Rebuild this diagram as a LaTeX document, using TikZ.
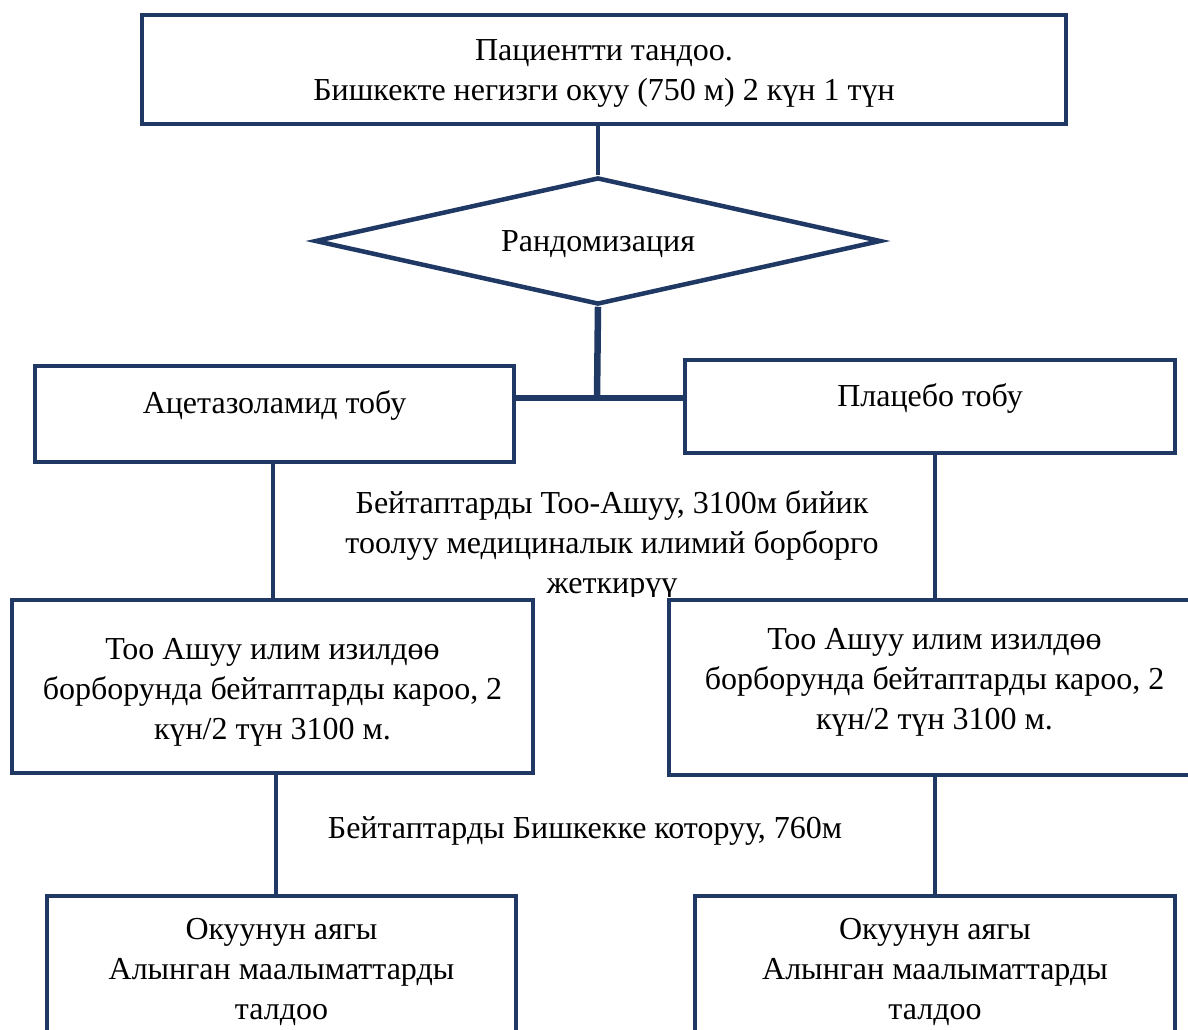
\documentclass[tikz,border=0pt]{standalone}
\usepackage{fontspec}
\setmainfont{Liberation Serif}
\usetikzlibrary{positioning}
\usetikzlibrary{shapes.geometric}
\definecolor{navy}{HTML}{1F3864}
\newcommand{\lifted}[3]{\raisebox{#1}[\height][\depth]{\parbox{#2}{\centering #3}}}

\begin{document}
\begin{tikzpicture}
    [x=1pt, y=-1pt,
    stepbox/.style={rectangle, draw=navy, fill=white, line width=4.5pt, align=center, inner sep=0pt, font=\fontsize{32}{40}\selectfont},
    decide/.style={diamond, draw=navy, fill=white, line width=4.5pt, aspect=4.5, inner sep=0pt, minimum width=566pt, minimum height=127pt, font=\fontsize{32}{40}\selectfont},
    note/.style={align=center, inner sep=0pt, font=\fontsize{32}{40}\selectfont},
    link/.style={draw=navy, line width=4.5pt},
    biglink/.style={draw=navy, line width=6.5pt}]
    \useasboundingbox (0,0) rectangle (1188,1030);
    \node[stepbox, minimum width=924pt, minimum height=109pt] (sel) at (604, 69.5)
        {\lifted{-4pt}{880pt}{Пациентти тандоо.\\Бишкекте негизги окуу (750 м) 2 күн 1 түн}};
    \node[decide] (rand) at (598, 241) {\raisebox{-3pt}[\height][\depth]{Рандомизация}};
    \node[stepbox, minimum width=479pt, minimum height=96pt] (acet) at (274.5, 414)
        {\raisebox{9pt}[\height][\depth]{Ацетазоламид тобу}};
    \node[stepbox, minimum width=490pt, minimum height=93pt] (plac) at (930, 406.5)
        {\raisebox{8pt}[\height][\depth]{Плацебо тобу}};
    % text under the group boxes, cut by the next row
    \begin{scope}
        \clip (0,450) rectangle (1188,596);
        \node[note] (trip) at (612, 545) {Бейтаптарды Тоо-Ашуу, 3100м бийик\\тоолуу медициналык илимий борборго\\жеткирүү};
    \end{scope}
    \node[stepbox, minimum width=521pt, minimum height=173pt] (tooL) at (272.5, 686.5)
        {\lifted{-6pt}{500pt}{Тоо Ашуу илим изилдөө\\борборунда бейтаптарды кароо, 2\\күн/2 түн 3100 м.}};
    \node[stepbox, minimum width=531pt, minimum height=175pt] (tooR) at (934.5, 687.5)
        {\lifted{5pt}{500pt}{Тоо Ашуу илим изилдөө\\борборунда бейтаптарды кароо, 2\\күн/2 түн 3100 м.}};
    \node[note] (back) at (585, 831) {Бейтаптарды Бишкекке которуу, 760м};
    \node[stepbox, minimum width=469pt, minimum height=145pt] (endL) at (281.5, 968.5)
        {\lifted{-3pt}{440pt}{Окуунун аягы\\Алынган маалыматтарды\\талдоо}};
    \node[stepbox, minimum width=480pt, minimum height=145pt] (endR) at (935, 968.5)
        {\lifted{-3pt}{440pt}{Окуунун аягы\\Алынган маалыматтарды\\талдоо}};
    \coordinate (j) at (597, 398);
    \draw[link] (rand.north |- sel.south) -- (rand.north);
    \draw[biglink] (rand.south) -- (j);
    \draw[biglink] (acet.east |- j) -- (j) -- (plac.west |- j);
    \draw[link] (acet.south -| 273,0) -- (tooL.north -| 273,0);
    \draw[link] (endR.north |- plac.south) -- (endR.north |- tooR.north);
    \draw[link] (tooL.south -| 276,0) -- (endL.north -| 276,0);
    \draw[link] (endR.north |- tooR.south) -- (endR.north);
\end{tikzpicture}
\end{document}
